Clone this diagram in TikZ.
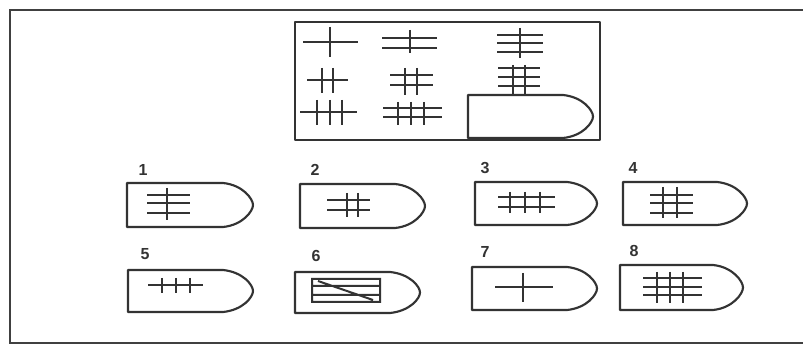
\documentclass[tikz,border=0pt]{standalone}
\usepackage{fontspec}
\setmainfont{Liberation Sans}
\begin{document}
\begin{tikzpicture}[x=0.75pt,y=-0.75pt,
  frm/.style={line width=1.6pt,draw=black!75},
  shp/.style={line width=1.6pt,draw=black!80,line join=round},
  sym/.style={line width=1.9pt,draw=black!80},
  lbl/.style={font=\fontsize{12}{12}\selectfont\bfseries,text=black!80,inner sep=0pt}]
\useasboundingbox (0,0) rectangle (803,345);
\fill[white] (0,0) rectangle (803,345);
% outer frame (right side runs off the page)
\draw[frm] (815,10) -- (10,10) -- (10,343) -- (815,343);
% question box
\draw[shp] (295,22) rectangle (600,140);
\newcommand\bshp[4]{%
  \pgfmathsetmacro\xa{#3-30}%
  \pgfmathsetmacro\xb{#3-10}%
  \pgfmathsetmacro\ym{(#2+#4)/2}%
  \pgfmathsetmacro\yu{\ym-6}%
  \pgfmathsetmacro\yd{\ym+6}%
  \pgfmathsetmacro\yt{#2+2}%
  \pgfmathsetmacro\yb{#4-2}%
  \draw[shp] (#1,#2) -- (\xa,#2) .. controls (\xb,\yt) and (#3,\yu) .. (#3,\ym)
    .. controls (#3,\yd) and (\xb,\yb) .. (\xa,#4) -- (#1,#4) -- cycle;}
% ---- matrix symbols ----
% row 1
\draw[sym] (303,42) -- (358,42) (330,27) -- (330,57);
\draw[sym] (382,38) -- (437,38) (382,48) -- (437,48) (410,30) -- (410,53);
\draw[sym] (497,35) -- (543,35) (497,43) -- (543,43) (497,52) -- (543,52) (520,28) -- (520,58);
% row 2
\draw[sym] (307,80) -- (348,80) (322,68) -- (322,93) (333,68) -- (333,93);
\draw[sym] (390,75) -- (433,75) (390,85) -- (433,85) (405,68) -- (405,95) (417,68) -- (417,95);
\draw[sym] (498,68) -- (540,68) (498,77) -- (540,77) (498,86) -- (540,86) (513,65) -- (513,95) (525,65) -- (525,95);
% row 3
\draw[sym] (300,112) -- (357,112) (317,100) -- (317,125) (330,100) -- (330,125) (342,100) -- (342,125);
\draw[sym] (383,108) -- (442,108) (383,117) -- (442,117) (398,102) -- (398,125) (411,102) -- (411,125) (424,102) -- (424,125);
% missing piece
\bshp{468}{95}{593}{138}
% ---- answer options ----
\node[lbl] (l1) at (143,170) {1};
\node[lbl] (l2) at (315,170) {2};
\node[lbl] (l3) at (485,168) {3};
\node[lbl] (l4) at (633,168) {4};
\node[lbl] (l5) at (145,254) {5};
\node[lbl] (l6) at (316,256) {6};
\node[lbl] (l7) at (485,252) {7};
\node[lbl] (l8) at (634,251) {8};
% option 1
\bshp{127}{183}{253}{227}
\draw[sym] (147,195) -- (190,195) (147,203) -- (190,203) (147,213) -- (190,213) (167,188) -- (167,220);
% option 2
\bshp{300}{184}{425}{228}
\draw[sym] (327,200) -- (370,200) (327,210) -- (370,210) (347,193) -- (347,217) (358,193) -- (358,217);
% option 3
\bshp{475}{182}{597}{225}
\draw[sym] (498,197) -- (555,197) (498,207) -- (555,207) (510,192) -- (510,213) (525,192) -- (525,213) (540,192) -- (540,213);
% option 4
\bshp{623}{182}{747}{225}
\draw[sym] (650,195) -- (693,195) (650,203) -- (693,203) (650,213) -- (693,213) (663,187) -- (663,218) (677,187) -- (677,218);
% option 5
\bshp{128}{270}{253}{312}
\draw[sym] (148,285) -- (203,285) (162,278) -- (162,293) (176,278) -- (176,293) (190,278) -- (190,293);
% option 6
\bshp{295}{272}{420}{313}
\draw[sym,line width=1.5pt] (312,279) rectangle (380,302) (312,286) -- (380,286) (312,295) -- (380,295) (318,281) -- (373,300);
% option 7
\bshp{472}{267}{597}{310}
\draw[sym] (495,287) -- (553,287) (523,273) -- (523,302);
% option 8
\bshp{620}{265}{743}{310}
\draw[sym] (643,278) -- (702,278) (643,287) -- (702,287) (643,295) -- (702,295) (657,272) -- (657,303) (670,272) -- (670,303) (683,272) -- (683,303);
\end{tikzpicture}
\end{document}
